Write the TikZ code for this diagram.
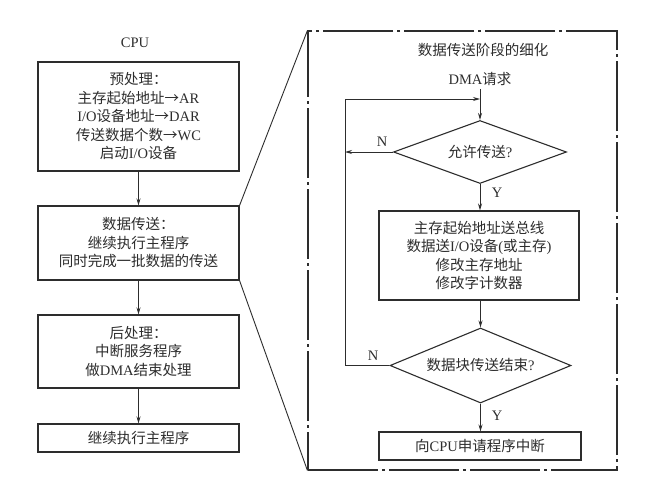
\documentclass[tikz,border=0pt]{standalone}
\usepackage{fontspec}
\setmainfont{Liberation Serif}
\newfontfamily\cjk{Noto Sans CJK SC}
\usetikzlibrary{arrows.meta,shapes.geometric}
\definecolor{ink}{RGB}{45,45,45}
\newcommand{\zh}[1]{{\cjk #1}}

\begin{document}
\begin{tikzpicture}[x=1pt,y=-1pt,
  box/.style={draw=ink,line width=1.1pt,minimum width=201pt,align=center,inner sep=0pt,
  font=\fontsize{14.5}{18.5}\selectfont,text=ink},
  cond/.style={diamond,draw=ink,line width=1.1pt,inner sep=0pt,
  font=\fontsize{14.5}{18.5}\selectfont,text=ink},
  lbl/.style={font=\fontsize{14.5}{17}\selectfont,text=ink},
  arr/.style={-{Stealth[length=7pt,width=4pt]},ink,line width=0.9pt},
  frm/.style={draw=ink,line width=1.1pt,dash pattern=on 70pt off 4pt on 3pt off 4pt}]
\path[use as bounding box,fill=white] (0,0) rectangle (651,498);

% CPU side
\node[lbl] (cpu) at (135,43) {CPU};
\node[box,minimum height=109pt] (pre) at (138.5,116.5)
  {\zh{预处理：}\\\zh{主存起始地址→}AR\\I/O\zh{设备地址→}DAR\\\zh{传送数据个数→}WC\\\zh{启动}I/O\zh{设备}};
\node[box,minimum height=74pt] (dt) at (138.5,243)
  {\zh{数据传送：}\\\zh{继续执行主程序}\\\zh{同时完成一批数据的传送}};
\node[box,minimum height=73pt] (post) at (138.5,351.5)
  {\zh{后处理：}\\\zh{中断服务程序}\\\zh{做}DMA\zh{结束处理}};
\node[box,minimum height=28pt] (cont) at (138.5,438) {\zh{继续执行主程序}};
\draw[arr] (pre) -- (dt);
\draw[arr] (dt) -- (post);
\draw[arr] (post) -- (cont);

% detail of the transfer phase
\node[frm,minimum width=309pt,minimum height=439pt,inner sep=0pt] (detail) at (462.5,250.5) {};
\draw[ink,line width=0.9pt] (dt.north east) -- (detail.north west);
\draw[ink,line width=0.9pt] (dt.south east) -- (detail.south west);
\node[lbl] (ttl) at (483,50) {\zh{数据传送阶段的细化}};
\node[lbl] (req) at (480,79) {DMA\zh{请求}};
\coordinate (jn) at (480,99);
\coordinate (lp) at (345,99);
\node[cond,aspect=2.75,minimum width=173pt,minimum height=63pt] (allow) at (480,152) {\zh{允许传送}?};
\node[box,minimum width=200pt,minimum height=89pt] (xfer) at (479,255.5)
  {\zh{主存起始地址送总线}\\\zh{数据送}I/O\zh{设备}(\zh{或主存})\\\zh{修改主存地址}\\\zh{修改字计数器}};
\node[cond,aspect=2.4,minimum width=181pt,minimum height=75pt] (done) at (480.5,365.5) {\zh{数据块传送结束}?};
\node[box,minimum width=202pt,minimum height=28pt] (intr) at (480,446) {\zh{向}CPU\zh{申请程序中断}};
\node[lbl] (n1) at (382,142) {N};
\node[lbl] (y1) at (497,193) {Y};
\node[lbl] (n2) at (373,356) {N};
\node[lbl] (y2) at (497,416) {Y};
\draw[arr] (req) -- (allow.north);
\draw[arr] (allow.west) -- (allow.west -| lp);
\draw[arr] (allow.south) -- (xfer.north -| allow.south);
\draw[arr] (xfer.south -| done.north) -- (done.north);
\draw[arr] (done.south) -- (intr.north -| done.south);
\draw[arr] (done.west) -| (lp) -- (jn);
\end{tikzpicture}
\end{document}
